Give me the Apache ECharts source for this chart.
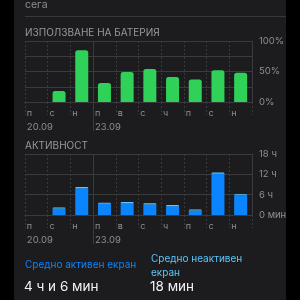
<!DOCTYPE html>
<html><head><meta charset="utf-8">
<script src="https://cdn.jsdelivr.net/npm/echarts@6/dist/echarts.min.js"></script>
<style>html,body{margin:0;padding:0;background:#000;}#c{width:300px;height:300px;}</style>
</head><body><div id="c"></div>
<script>
var days = ['п','с','н','п','в','с','ч','п','с','н'];
var dates = ['20.09','','','23.09','','','','','',''];
var battery = [0, 18, 85, 31, 49, 54, 41, 37, 52, 48];
var activeHours = [0, 1.9, 7.9, 3.3, 3.5, 3.1, 2.6, 1.3, 12.2, 5.8];
var inactiveHours = [0, 0.35, 0.35, 0.35, 0.35, 0.35, 0.35, 0.35, 0.35, 0.35];
var batteryTicks = {0:'0%', 50:'50%', 100:'100%'};
var activityTicks = {0:'0 мин', 6:'6 ч', 12:'12 ч', 18:'18 ч'};

var FONT = 'Inter, Roboto, sans-serif';
var GRID = '#3a3a3c';
var LABEL = '#8e8e93';

function xAxisFor(gi) {
  return {
    type: 'category', gridIndex: gi, data: days, boundaryGap: true,
    axisLine: {show: true, lineStyle: {color: GRID}},
    axisTick: {show: true, interval: 0, length: 13, lineStyle: {color: GRID, type: [2, 2]}},
    splitLine: {show: true, interval: 0, lineStyle: {color: GRID, type: [2, 2]}},
    axisLabel: {
      interval: 0, margin: 4,
      formatter: function (v, i) { return dates[i] ? '{d|' + v + '}\n{t|' + dates[i] + '}' : '{d|' + v + '}'; },
      rich: {
        d: {width: 19, align: 'left', color: LABEL, fontSize: 9, fontFamily: FONT, lineHeight: 14},
        t: {width: 19, align: 'left', color: LABEL, fontSize: 9.5, fontFamily: FONT, lineHeight: 14}
      }
    }
  };
}

var chart = echarts.init(document.getElementById('c'), null, {renderer: 'canvas'});
var option = {
  backgroundColor: '#000',
  animation: false,
  grid: [
    {left: 25, top: 41, width: 227, height: 61},
    {left: 25, top: 154, width: 227, height: 61}
  ],
  xAxis: [xAxisFor(0), xAxisFor(1)],
  yAxis: [
    {type: 'value', gridIndex: 0, position: 'right', min: 0, max: 100, interval: 25,
     axisLine: {show: true, lineStyle: {color: GRID}}, axisTick: {show: false},
     splitLine: {show: true, lineStyle: {color: GRID}},
     axisLabel: {margin: 7, color: LABEL, fontSize: 9.5, fontFamily: FONT,
       formatter: function (v) { return batteryTicks[v] || ''; }}},
    {type: 'value', gridIndex: 1, position: 'right', min: 0, max: 18, interval: 6,
     axisLine: {show: true, lineStyle: {color: GRID}}, axisTick: {show: false},
     splitLine: {show: true, lineStyle: {color: GRID}},
     axisLabel: {margin: 7, color: LABEL, fontSize: 9.5, fontFamily: FONT,
       formatter: function (v) { return activityTicks[v] || ''; }}}
  ],
  series: [
    {type: 'bar', xAxisIndex: 0, yAxisIndex: 0, data: battery, barWidth: 13,
     itemStyle: {color: '#30d158', borderRadius: [2.5, 2.5, 0, 0]}},
    {type: 'bar', xAxisIndex: 1, yAxisIndex: 1, data: activeHours, barWidth: 13, stack: 'a',
     itemStyle: {color: '#0a84ff'}},
    {type: 'bar', xAxisIndex: 1, yAxisIndex: 1, data: inactiveHours, barWidth: 13, stack: 'a',
     itemStyle: {color: '#5ac8fa', borderRadius: [2, 2, 0, 0]}}
  ],
  graphic: [
    {type: 'rect', z: -10, shape: {x: 14, y: 0, width: 272, height: 300}, style: {fill: '#1c1c1e'}},
    {type: 'text', left: 25, top: -1, style: {text: 'сега', fill: '#8e8e93', font: '10.5px ' + FONT}},
    {type: 'line', shape: {x1: 25, y1: 16.5, x2: 286, y2: 16.5}, style: {stroke: '#38383a', lineWidth: 1}},
    {type: 'text', left: 25, top: 27.5, style: {text: 'ИЗПОЛЗВАНЕ НА БАТЕРИЯ', fill: '#98989d', font: '10px ' + FONT}},
    {type: 'text', left: 25, top: 140.5, style: {text: 'АКТИВНОСТ', fill: '#98989d', font: '10px ' + FONT}},
    {type: 'text', left: 25, top: 259.5, style: {text: 'Средно активен екран', fill: '#0a84ff', font: '10px ' + FONT}},
    {type: 'text', left: 151, top: 252.5, style: {text: 'Средно неактивен\nекран', fill: '#5ac8fa', font: '10px ' + FONT, lineHeight: 13.5}},
    {type: 'text', left: 24, top: 280, style: {text: '4 ч и 6 мин', fill: '#f2f2f7', font: '13.5px ' + FONT}},
    {type: 'text', left: 150, top: 280, style: {text: '18 мин', fill: '#f2f2f7', font: '13.5px ' + FONT}}
  ]
};
chart.setOption(option);

// week divider: solid line at the boundary between category 2 and 3
function divider(gi, yTop, yBot) {
  var a = chart.convertToPixel({xAxisIndex: gi}, 2);
  var b = chart.convertToPixel({xAxisIndex: gi}, 3);
  var x = Math.round((a + b) / 2) + 0.5;
  return {type: 'line', shape: {x1: x, y1: yTop, x2: x, y2: yBot}, style: {stroke: GRID, lineWidth: 1}};
}
var g = option.graphic.slice();
g.push(divider(0, 41, 131));
g.push(divider(1, 154, 244));
chart.setOption({graphic: g}, {replaceMerge: ['graphic']});
</script></body></html>
